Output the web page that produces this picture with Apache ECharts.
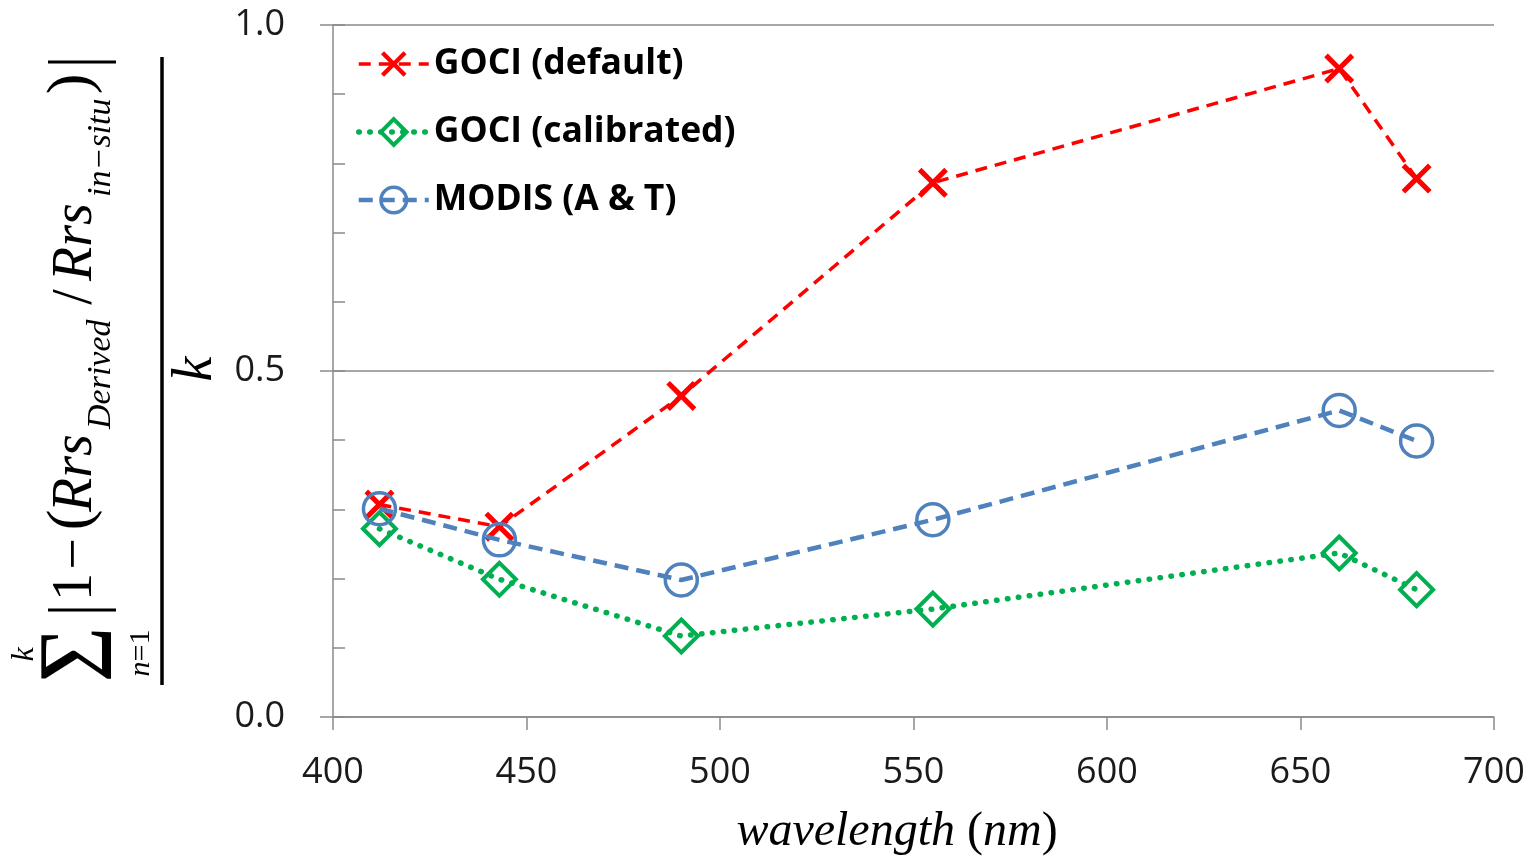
<!DOCTYPE html>
<html><head><meta charset="utf-8">
<script src="https://cdn.jsdelivr.net/npm/echarts@6/dist/echarts.min.js"></script>
<style>html,body{margin:0;padding:0;background:#fff}#c{width:1536px;height:865px}</style>
</head><body><div id="c"></div>
<script>
// ---- data ----
const wavelengths = [412, 443, 490, 555, 660, 680];
const gociDefault = [0.307, 0.275, 0.464, 0.772, 0.937, 0.778];
const gociCalibrated = [0.272, 0.199, 0.117, 0.156, 0.237, 0.184];
const modis = [0.301, 0.256, 0.198, 0.285, 0.443, 0.399];
const seriesNames = ['GOCI (default)', 'GOCI (calibrated)', 'MODIS (A & T)'];
const xTickValues = [400, 450, 500, 550, 600, 650, 700];
const yTickLabels = ['0.0', '0.5', '1.0'];

const pairs = arr => wavelengths.map((w, i) => [w, arr[i]]);
const serif = '"Liberation Serif","Times New Roman",serif';
const sans = '"Open Sans","Noto Sans",sans-serif';
const axisGray = '#8a8a8a';
const X_PATH = 'path://M0,1.2L1.2,0L5,3.8L8.8,0L10,1.2L6.2,5L10,8.8L8.8,10L5,6.2L1.2,10L0,8.8L3.8,5Z';

function t(text, x, y, size, o) {
  o = o || {};
  return {
    type: 'text', x: x, y: y, scaleX: o.sx || 1, scaleY: o.sy || 1,
    style: {
      text: text, fontSize: size, fontFamily: serif,
      fontStyle: o.italic ? 'italic' : 'normal', fill: '#000',
      align: o.align || 'center', verticalAlign: 'middle',
      textAlign: o.align || 'center', textVerticalAlign: 'middle',
      rich: o.rich
    }
  };
}
function ln(x1, y1, x2, y2, w) {
  return {type: 'line', shape: {x1: x1, y1: y1, x2: x2, y2: y2}, style: {stroke: '#000', lineWidth: w}};
}

const chart = echarts.init(document.getElementById('c'), null, {renderer: 'canvas'});
chart.setOption({
  animation: false,
  backgroundColor: '#fff',
  grid: {left: 333, right: 42, top: 25, bottom: 148, containLabel: false, outerBoundsMode: 'none'},
  legend: {
    orient: 'vertical', left: 356, top: 46, padding: 0,
    itemWidth: 70, itemHeight: 32, itemGap: 32,
    lineStyle: {width: 'inherit'},
    itemStyle: {borderWidth: 'inherit'},
    textStyle: {fontFamily: sans, fontWeight: 'bold', fontSize: 35.5, lineHeight: 32, color: '#000'},
    data: seriesNames
  },
  xAxis: {
    type: 'value', min: xTickValues[0], max: xTickValues[xTickValues.length - 1], interval: 50,
    axisLine: {show: true, lineStyle: {color: axisGray, width: 1.5}},
    axisTick: {show: true, length: 13, inside: false, lineStyle: {color: axisGray, width: 1.5}},
    axisLabel: {margin: 38, fontSize: 36, fontFamily: sans, color: '#1a1a1a'},
    splitLine: {show: false}
  },
  yAxis: [{
    type: 'value', min: 0, max: 1, interval: 0.5, position: 'left',
    axisLine: {show: true, lineStyle: {color: axisGray, width: 1.5}},
    axisTick: {show: true, length: 13, inside: false, lineStyle: {color: axisGray, width: 1.5}},
    axisLabel: {margin: 48, fontSize: 36, fontFamily: sans, color: '#1a1a1a',
      formatter: v => yTickLabels[Math.round(v / 0.5)]},
    splitLine: {show: true, lineStyle: {color: axisGray, width: 1.5}}
  }, {
    type: 'value', min: 0, max: 1, interval: 0.1, position: 'left', offset: 0,
    axisLine: {show: false},
    axisTick: {show: true, length: 12, inside: true, lineStyle: {color: axisGray, width: 1.5}},
    axisLabel: {show: false},
    splitLine: {show: false}
  }],
  series: [{
    name: seriesNames[0], type: 'line', data: pairs(gociDefault), yAxisIndex: 0,
    symbol: X_PATH, symbolSize: 30,
    itemStyle: {color: '#ff0000', borderWidth: 0},
    lineStyle: {color: '#ff0000', width: 3.5, type: [12, 8]}, z: 3
  }, {
    name: seriesNames[1], type: 'line', data: pairs(gociCalibrated), yAxisIndex: 0,
    symbol: 'diamond', symbolSize: 33,
    itemStyle: {color: 'rgba(0,0,0,0)', borderColor: '#00b050', borderWidth: 4},
    lineStyle: {color: '#00b050', width: 5.5, type: [0.5, 10.5], cap: 'round'}, z: 2
  }, {
    name: seriesNames[2], type: 'line', data: pairs(modis), yAxisIndex: 0,
    symbol: 'circle', symbolSize: 32,
    itemStyle: {color: 'rgba(0,0,0,0)', borderColor: '#4f81bd', borderWidth: 3.5},
    lineStyle: {color: '#4f81bd', width: 4.5, type: [14, 8]}, z: 4
  }],
  graphic: [{
    type: 'text', x: 897, y: 832,
    style: {
      text: '{i|wavelength} ({i|nm})', fontSize: 48, fontFamily: serif, fill: '#000',
      align: 'center', verticalAlign: 'middle', textAlign: 'center', textVerticalAlign: 'middle',
      rich: {i: {fontStyle: 'italic', fontSize: 48, fontFamily: serif}}
    }
  }, {
    type: 'group', x: 162, y: 371, rotation: Math.PI / 2,
    children: [
      ln(-314, 0, 314, 0, 3.5),
      ln(-239, -114, -239, -46, 3),
      ln(309, -114, 309, -46, 3),
      t('\u03A3', -283.5, -79, 96, {sy: 1.1}),
      t('k', -283.5, -137, 32, {italic: true}),
      t('{i|n}=1', -282, -21, 30, {rich: {i: {fontStyle: 'italic', fontSize: 30, fontFamily: serif}}}),
      t('1', -216, -86, 56),
      t('\u2212', -183, -86, 56),
      t('(', -149, -89, 62),
      t('Rrs', -141, -86, 56, {italic: true, align: 'left'}),
      t('Derived', -58, -61, 34, {italic: true, align: 'left'}),
      t('/', 74, -86, 56),
      t('Rrs', 90, -86, 56, {italic: true, align: 'left'}),
      t('in\u2212situ', 174, -61, 34, {italic: true, align: 'left'}),
      t(')', 287, -89, 62),
      t('k', 2, 34.5, 56, {italic: true})
    ]
  }]
});
</script>
</body></html>
